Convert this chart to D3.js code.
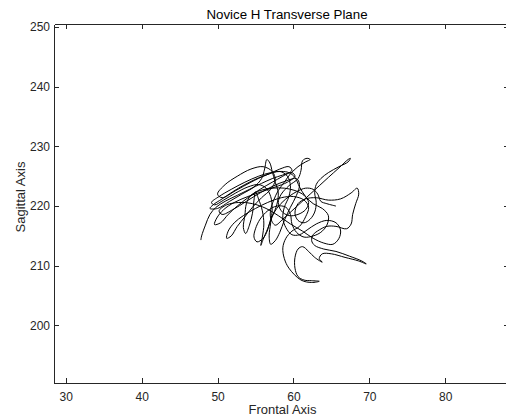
<!DOCTYPE html>
<html>
<head>
<meta charset="utf-8">
<script src="https://cdn.jsdelivr.net/npm/d3@7"></script>
<style>
  body { margin: 0; background: #fff; }
  svg { display: block; font-family: Helvetica, Arial, "Liberation Sans", sans-serif; }
  .axis text { font-size: 12px; fill: #262626; }
  .axis path, .axis line { stroke: #262626; shape-rendering: crispEdges; }
</style>
</head>
<body>
<svg id="chart" width="506" height="419"></svg>
<script>
// Trajectory (frontal = x, sagittal = y)
const frontal = [
  47.8, 47.9, 48.4, 49.0, 49.8, 51.0, 52.6, 54.2, 55.8, 57.2,
  58.6, 59.8, 60.2, 59.2, 57.6, 55.8, 54.0, 52.2, 50.8, 49.9,
  49.6, 50.4, 51.4, 52.6, 54.0, 55.6, 57.2, 58.6, 59.8, 59.4,
  58.2, 56.8, 55.2, 53.6, 52.0, 50.6, 49.4, 49.0, 50.0, 51.6,
  53.2, 54.8, 55.8, 56.2, 56.5, 56.9, 57.2, 57.6, 58.0, 57.8,
  57.2, 56.6, 56.0, 55.7, 55.9, 56.1, 55.9, 55.4, 55.0, 54.8,
  54.6, 54.2, 53.7, 53.4, 53.6, 53.8, 54.4, 55.6, 57.2, 58.8,
  60.2, 61.4, 62.0, 61.6, 60.6, 59.4, 58.4, 58.0, 58.4, 59.4,
  60.6, 61.0, 61.2, 61.8, 62.2, 61.6, 60.6, 59.6, 58.8, 58.0,
  57.4, 57.0, 57.0, 57.6, 58.6, 59.8, 61.0, 62.2, 63.4, 64.6,
  66.0, 67.2, 67.5, 67.2, 66.0, 64.6, 63.6, 63.0, 62.8, 63.0,
  62.8, 62.2, 61.4, 60.6, 60.2, 60.6, 61.6, 63.0, 64.6, 66.2,
  67.6, 68.4, 68.6, 68.2, 67.8, 67.6, 67.0, 65.6, 64.4, 63.4,
  62.6, 62.4, 62.8, 64.0, 65.6, 67.4, 69.0, 69.6, 68.6, 66.8,
  65.0, 63.8, 63.4, 63.8, 62.8, 62.0, 61.2, 60.6, 60.2, 60.2,
  60.6, 61.4, 62.4, 63.4, 62.4, 61.0, 59.4, 58.8, 58.6, 59.0,
  59.8, 60.8, 61.6, 62.0, 61.4, 60.0, 58.4, 56.6, 55.0, 53.4,
  52.2, 51.4, 51.2, 51.8, 52.6, 53.6, 54.6, 55.8, 57.0, 57.6,
  57.2, 56.0, 54.4, 52.6, 51.0, 50.0, 50.6, 52.4, 54.4, 56.4,
  58.2, 59.2, 59.6, 59.4, 58.8, 58.6, 59.0, 59.8, 60.8, 61.8,
  63.0, 64.4, 65.6, 66.2, 66.0, 65.2, 64.0, 62.6, 61.2, 59.6,
  58.0, 56.4, 54.6, 52.8, 51.2, 50.2, 50.6, 52.0, 53.8, 55.6,
  57.4, 59.0, 60.4, 60.8, 60.4, 59.6, 58.8, 58.2, 57.6, 57.0,
  56.8, 57.0, 57.2, 57.0, 56.4, 55.4, 54.0, 52.4, 50.8, 49.6,
  49.2, 50.2, 51.8, 53.6, 55.4, 57.0, 58.4, 59.4, 60.2, 60.8,
  61.6, 62.6, 63.8, 64.6, 64.4, 63.6, 62.6, 61.4, 60.4, 59.8,
  59.6, 59.0, 57.8, 56.6, 55.6, 55.0, 54.8, 55.2, 56.0, 56.6,
  57.0, 57.8, 59.0, 60.4, 61.6, 62.6, 63.2, 63.6, 64.4, 65.6
];
const sagittal = [
  214.3, 215.0, 216.8, 218.6, 219.8, 220.8, 221.8, 222.8, 223.8, 224.6,
  225.2, 225.6, 225.0, 224.0, 223.2, 222.4, 221.6, 220.6, 219.4, 218.0,
  216.9, 217.2, 218.6, 220.0, 221.4, 222.8, 224.0, 225.0, 226.0, 226.6,
  226.2, 225.4, 224.6, 223.6, 222.4, 221.2, 220.2, 219.6, 219.6, 220.8,
  222.0, 223.2, 224.6, 226.2, 227.8, 227.2, 225.8, 224.0, 222.2, 220.2,
  218.2, 216.2, 214.4, 213.4, 214.8, 217.0, 219.2, 221.2, 222.4, 221.0,
  218.8, 216.8, 215.4, 216.4, 218.4, 220.4, 221.8, 222.6, 223.0, 223.0,
  222.6, 221.8, 220.6, 219.4, 218.6, 218.4, 219.2, 220.6, 222.0, 223.4,
  224.6, 226.0, 227.6, 228.0, 227.8, 227.4, 226.6, 225.4, 224.0, 222.6,
  221.0, 219.4, 218.0, 216.8, 217.8, 219.2, 220.6, 222.0, 223.4, 224.8,
  226.4, 227.8, 228.0, 227.4, 226.6, 225.6, 224.6, 223.6, 222.2, 220.6,
  219.0, 217.8, 217.2, 217.6, 218.8, 220.4, 221.2, 221.4, 221.0, 221.2,
  222.2, 223.0, 222.0, 220.4, 218.6, 217.0, 216.2, 216.6, 216.6, 216.0,
  215.2, 214.2, 213.4, 212.8, 212.4, 211.6, 210.8, 210.3, 210.8, 211.4,
  212.0, 212.0, 211.2, 210.6, 211.4, 212.4, 213.2, 212.8, 211.4, 209.6,
  208.2, 207.6, 207.5, 207.4, 207.2, 207.6, 209.6, 211.2, 213.0, 214.6,
  215.8, 216.6, 218.2, 219.8, 221.0, 221.6, 221.4, 220.6, 219.6, 218.4,
  217.2, 215.8, 214.6, 215.0, 216.6, 218.2, 219.8, 221.4, 222.8, 224.4,
  225.8, 226.6, 226.2, 225.0, 223.6, 222.0, 221.4, 222.6, 224.0, 225.2,
  225.8, 225.0, 223.4, 221.6, 219.8, 218.0, 216.4, 215.2, 215.2, 216.0,
  217.0, 217.6, 217.2, 216.0, 214.6, 213.6, 213.8, 214.6, 215.8, 217.0,
  218.4, 219.6, 220.4, 220.6, 220.2, 219.2, 218.6, 219.4, 220.8, 222.2,
  223.4, 224.2, 224.6, 223.6, 221.8, 219.8, 217.6, 215.6, 214.2, 213.6,
  215.0, 217.2, 219.6, 221.6, 223.0, 223.6, 223.2, 222.2, 221.0, 220.2,
  220.6, 221.6, 222.8, 224.0, 225.0, 225.6, 225.8, 225.6, 224.8, 223.2,
  221.6, 220.4, 219.6, 218.4, 216.8, 215.6, 215.0, 214.8, 215.6, 217.0,
  218.6, 219.8, 220.0, 219.2, 217.8, 216.2, 214.8, 214.0, 214.6, 216.0,
  217.8, 219.6, 221.2, 222.4, 223.0, 222.8, 222.0, 220.8, 220.4, 220.0
];
const xTicks = [30, 40, 50, 60, 70, 80];
const yTicks = [200, 210, 220, 230, 240, 250];
const xLimits = [28.45, 88.4];
const yLimits = [190.36, 250.5];

const title = "Novice H Transverse Plane";
const xLabel = "Frontal Axis";
const yLabel = "Sagittal Axis";

const svg = d3.select("#chart");
const margin = { top: 24, right: -3, bottom: 36, left: 54 };
const width  = +svg.attr("width");
const height = +svg.attr("height");
const innerW = width - margin.left - margin.right;
const innerH = height - margin.top - margin.bottom;

const x = d3.scaleLinear().domain(xLimits).range([0, innerW]);
const y = d3.scaleLinear().domain(yLimits).range([innerH, 0]);

const g = svg.append("g")
  .attr("transform", `translate(${margin.left},${margin.top})`);

// trajectory
const points = frontal.map((f, i) => [f, sagittal[i]]);
const line = d3.line()
  .x(d => x(d[0]))
  .y(d => y(d[1]))
  .curve(d3.curveCatmullRom.alpha(0.5));

g.append("path")
  .datum(points)
  .attr("fill", "none")
  .attr("stroke", "#000")
  .attr("stroke-width", 1)
  .attr("stroke-linejoin", "round")
  .attr("d", line);

// box with inward ticks (matlab style)
g.append("g").attr("class", "axis")
  .attr("transform", `translate(0,${innerH})`)
  .call(d3.axisBottom(x).tickValues(xTicks).tickSizeInner(-5).tickSizeOuter(0).tickPadding(9));
g.append("g").attr("class", "axis")
  .call(d3.axisTop(x).tickValues(xTicks).tickSizeInner(-5).tickSizeOuter(0).tickFormat(""));
g.append("g").attr("class", "axis")
  .call(d3.axisLeft(y).tickValues(yTicks).tickSizeInner(-5).tickSizeOuter(0).tickPadding(4));
g.append("g").attr("class", "axis")
  .attr("transform", `translate(${innerW},0)`)
  .call(d3.axisRight(y).tickValues(yTicks).tickSizeInner(-5).tickSizeOuter(0).tickFormat(""));

// title and labels
svg.append("text")
  .attr("x", 287).attr("y", 19)
  .attr("text-anchor", "middle")
  .attr("font-size", 13.3).attr("fill", "#000")
  .text(title);

svg.append("text")
  .attr("x", 282.5).attr("y", 414)
  .attr("text-anchor", "middle")
  .attr("font-size", 13).attr("fill", "#262626")
  .text(xLabel);

svg.append("text")
  .attr("transform", "translate(25,197) rotate(-90)")
  .attr("text-anchor", "middle")
  .attr("font-size", 13).attr("fill", "#262626")
  .text(yLabel);
</script>
</body>
</html>
